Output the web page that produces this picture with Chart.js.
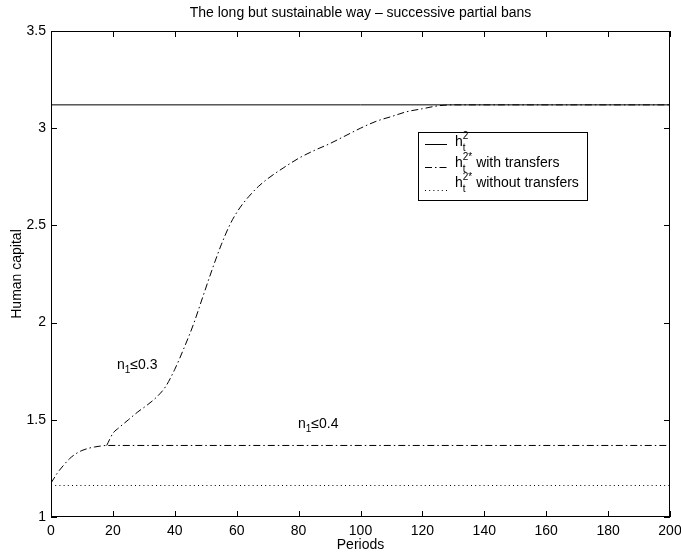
<!DOCTYPE html>
<html><head><meta charset="utf-8">
<script src="https://cdn.jsdelivr.net/npm/chart.js@4/dist/chart.umd.min.js"></script>
<style>html,body{margin:0;padding:0;background:#fff}#wrap{width:681px;height:556px;position:relative}</style>
</head><body><div id="wrap"><canvas id="c" width="681" height="556"></canvas></div>
<script>
const titleText = 'The long but sustainable way \u2013 successive partial bans';
const xAxisTitle = 'Periods';
const yAxisTitle = 'Human capital';
const xTickValues = [0, 20, 40, 60, 80, 100, 120, 140, 160, 180, 200];
const xTickLabels = ['0', '20', '40', '60', '80', '100', '120', '140', '160', '180', '200'];
const yTickValues = [1, 1.5, 2, 2.5, 3, 3.5];
const yTickLabels = ['1', '1.5', '2', '2.5', '3', '3.5'];

// h_t^2 (solid)
const h2Periods = [0, 200];
const h2Values = [3.12, 3.12];
// h_t^2* with transfers: common start + flat branch (n1<=0.4)
const withPeriods = [0, 1, 2, 4, 6, 8, 10, 12, 14, 16, 18, 200];
const withValues = [1.175, 1.2, 1.225, 1.265, 1.3, 1.325, 1.342, 1.353, 1.36, 1.365, 1.368, 1.368];
// h_t^2* with transfers: rising branch (n1<=0.3)
const risePeriods = [18, 20, 22, 25, 28, 31, 34, 37, 40, 43, 46, 49, 52, 55, 58, 61, 64, 67, 70, 75, 80, 85, 90, 95, 100, 105, 110, 115, 120, 125, 130, 200];
const riseValues = [1.368, 1.43, 1.46, 1.5, 1.54, 1.575, 1.615, 1.67, 1.76, 1.87, 1.99, 2.13, 2.27, 2.4, 2.51, 2.59, 2.65, 2.7, 2.74, 2.795, 2.845, 2.885, 2.92, 2.96, 3.0, 3.035, 3.06, 3.085, 3.1, 3.115, 3.12, 3.12];
// h_t^2* without transfers (dotted)
const withoutPeriods = [0, 200];
const withoutValues = [1.162, 1.162];

const legendBase = ['h', 'h', 'h'];
const legendSup = ['2', '2*', '2*'];
const legendSub = ['t', 't', 't'];
const legendRest = ['', 'with transfers', 'without transfers'];

const annoBase = ['n', 'n'];
const annoSub = ['1', '1'];
const annoRest = ['\u22640.3', '\u22640.4'];
const annoX = [21.3, 79.8];
const annoY = [1.761, 1.458];

const FONT = "'Liberation Sans', Arial, Helvetica, sans-serif";
const dashDot = [7, 3, 1.5, 3];
const dotted = [1, 3.2];

function pts(px, py) { return px.map((p, i) => ({ x: p, y: py[i] })); }

const overlay = {
  id: 'overlay',
  afterDraw(chart) {
    const ctx = chart.ctx;
    const a = chart.chartArea;
    const xs = chart.scales.x, ys = chart.scales.y;
    ctx.save();
    ctx.strokeStyle = '#000';
    ctx.lineWidth = 1;
    ctx.setLineDash([]);
    // frame
    ctx.strokeRect(Math.round(a.left) + 0.5, Math.round(a.top) + 0.5, Math.round(a.right - a.left) - 1, Math.round(a.bottom - a.top) - 1);
    // ticks (inward, all four sides)
    const tl = 6;
    ctx.beginPath();
    xTickValues.forEach(v => {
      const x = Math.round(xs.getPixelForValue(v)) + 0.5;
      ctx.moveTo(x, a.bottom); ctx.lineTo(x, a.bottom - tl);
      ctx.moveTo(x, a.top); ctx.lineTo(x, a.top + tl);
    });
    yTickValues.forEach(v => {
      const y = Math.round(ys.getPixelForValue(v)) + 0.5;
      ctx.moveTo(a.left, y); ctx.lineTo(a.left + tl, y);
      ctx.moveTo(a.right, y); ctx.lineTo(a.right - tl, y);
    });
    ctx.stroke();
    ctx.fillStyle = '#000';
    // title
    ctx.font = '14px ' + FONT;
    ctx.textAlign = 'center';
    ctx.textBaseline = 'middle';
    ctx.fillText(titleText, (a.left + a.right) / 2, 13);
    ctx.fillText(xAxisTitle, (a.left + a.right) / 2, 545);
    ctx.save();
    ctx.translate(17, (a.top + a.bottom) / 2);
    ctx.rotate(-Math.PI / 2);
    ctx.fillText(yAxisTitle, 0, 0);
    ctx.restore();
    // legend
    const bx = 418, by = 132, bw = 169, bh = 68;
    ctx.fillStyle = '#fff';
    ctx.fillRect(bx, by, bw, bh);
    ctx.strokeStyle = '#000';
    ctx.strokeRect(bx + 0.5, by + 0.5, bw, bh);
    const sampleY = [144, 167, 190];
    const baseY = [145.5, 167, 186.5];
    const styles = [[], dashDot, dotted];
    for (let i = 0; i < 3; i++) {
      ctx.setLineDash(styles[i]);
      ctx.beginPath();
      ctx.moveTo(425, sampleY[i] + 0.5); ctx.lineTo(447, sampleY[i] + 0.5);
      ctx.stroke();
      ctx.setLineDash([]);
      ctx.fillStyle = '#000';
      ctx.textAlign = 'left';
      ctx.textBaseline = 'alphabetic';
      let x = 455;
      ctx.font = '14px ' + FONT;
      ctx.fillText(legendBase[i], x, baseY[i]);
      x += ctx.measureText(legendBase[i]).width;
      ctx.font = '10px ' + FONT;
      ctx.fillText(legendSup[i], x, baseY[i] - 7);
      ctx.fillText(legendSub[i], x, baseY[i] + 5);
      const w = Math.max(ctx.measureText(legendSup[i]).width, ctx.measureText(legendSub[i]).width);
      x += w;
      ctx.font = '14px ' + FONT;
      if (legendRest[i]) ctx.fillText(' ' + legendRest[i], x, baseY[i]);
    }
    // annotations
    for (let i = 0; i < annoBase.length; i++) {
      let x = xs.getPixelForValue(annoX[i]);
      const y = ys.getPixelForValue(annoY[i]);
      ctx.font = '14px ' + FONT;
      ctx.fillText(annoBase[i], x, y);
      x += ctx.measureText(annoBase[i]).width;
      ctx.font = '10px ' + FONT;
      ctx.fillText(annoSub[i], x, y + 4);
      x += ctx.measureText(annoSub[i]).width;
      ctx.font = '14px ' + FONT;
      ctx.fillText(annoRest[i], x, y);
    }
    ctx.restore();
  }
};

const common = { borderColor: '#000', borderWidth: 1, pointRadius: 0, fill: false, cubicInterpolationMode: 'monotone' };

new Chart(document.getElementById('c'), {
  type: 'line',
  data: {
    datasets: [
      Object.assign({ label: 'h2', data: pts(h2Periods, h2Values) }, common),
      Object.assign({ label: 'with transfers', data: pts(withPeriods, withValues), borderDash: dashDot }, common),
      Object.assign({ label: 'with transfers (n1<=0.3)', data: pts(risePeriods, riseValues), borderDash: dashDot }, common),
      Object.assign({ label: 'without transfers', data: pts(withoutPeriods, withoutValues), borderDash: dotted }, common)
    ]
  },
  options: {
    responsive: false,
    animation: false,
    events: [],
    layout: { padding: { top: 31, right: 11, left: 0, bottom: 0 } },
    plugins: { legend: { display: false }, tooltip: { enabled: false }, title: { display: false } },
    scales: {
      x: {
        type: 'linear', min: 0, max: 200,
        afterBuildTicks: s => { s.ticks = xTickValues.map(v => ({ value: v })); },
        afterFit: s => { s.height = 39; s.paddingLeft = 0; s.paddingRight = 0; },
        ticks: { callback: v => xTickLabels[xTickValues.indexOf(v)], font: { size: 14, family: FONT }, color: '#000', padding: 6, maxRotation: 0, autoSkip: false },
        grid: { display: false, drawTicks: false }, border: { display: false }
      },
      y: {
        type: 'linear', min: 1, max: 3.5,
        afterBuildTicks: s => { s.ticks = yTickValues.map(v => ({ value: v })); },
        afterFit: s => { s.width = 51; s.paddingTop = 0; s.paddingBottom = 0; },
        ticks: { callback: v => yTickLabels[yTickValues.indexOf(v)], font: { size: 14, family: FONT }, color: '#000', padding: 5, autoSkip: false },
        grid: { display: false, drawTicks: false }, border: { display: false }
      }
    }
  },
  plugins: [overlay]
});
</script></body></html>
